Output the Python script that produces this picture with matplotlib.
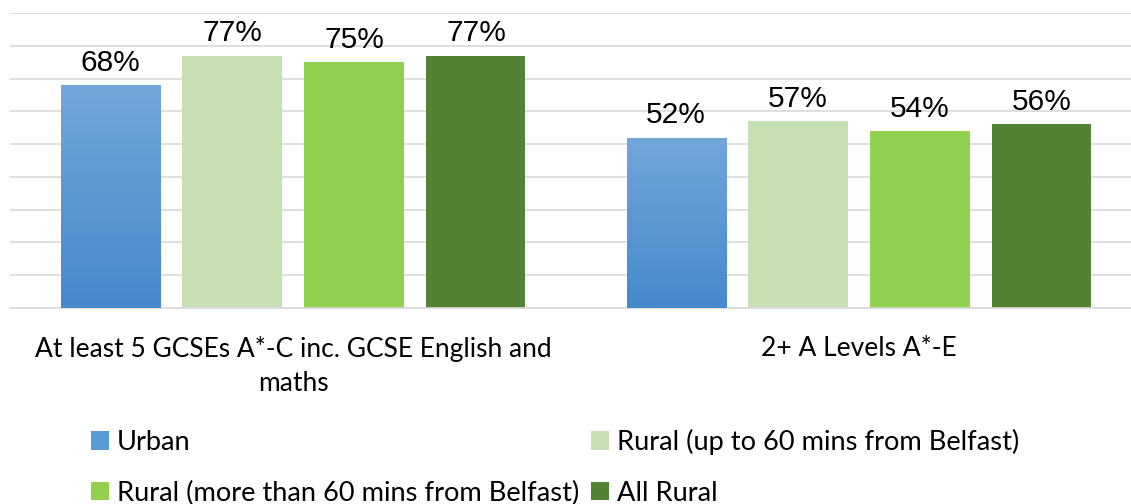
import numpy as np
import matplotlib
matplotlib.use("Agg")
import matplotlib.pyplot as plt
from matplotlib.colors import LinearSegmentedColormap
from matplotlib.patches import Patch

# Chart data
categories = ["At least 5 GCSEs A*-C inc. GCSE English and\nmaths", "2+ A Levels A*-E"]
series_names = ["Urban", "Rural (up to 60 mins from Belfast)",
                "Rural (more than 60 mins from Belfast)", "All Rural"]
urban = [68, 52]
rural_near = [77, 57]
rural_far = [75, 54]
all_rural = [77, 56]

colors = ["#5B9BD5", "#C6E0B4", "#92D050", "#548235"]
urban_cmap = LinearSegmentedColormap.from_list("urban", ["#4589CB", "#73A6DB"])

W, H = 1131, 504
fig = plt.figure(figsize=(W / 100, H / 100), dpi=100)
ax = fig.add_axes([10 / W, (H - 308) / H, (W - 10) / W, (308 - 13) / H])

x = np.arange(len(categories))
bar_w = 0.175
step = 0.2155
series = [urban, rural_near, rural_far, all_rural]

for i, vals in enumerate(series):
    xs = x + (i - 1.5) * step
    bars = ax.bar(xs, vals, width=bar_w, color=colors[i], zorder=2, linewidth=0)
    if i == 0:
        # vertical gradient fill like the original urban bars
        grad = np.linspace(0, 1, 256).reshape(-1, 1)
        for b in bars:
            im = ax.imshow(grad, extent=[b.get_x(), b.get_x() + b.get_width(), 0, b.get_height()],
                           origin="lower", aspect="auto", cmap=urban_cmap, zorder=3)
            im.set_clip_path(b)
    for xi, v in zip(xs, vals):
        ax.annotate(f"{v}%", (xi, v), xytext=(0, 6), textcoords="offset points",
                    ha="center", va="bottom", fontsize=21.5, family="Liberation Sans", zorder=4)

ax.set_xlim(-0.5, 1 + (W - 859) / 566)
ax.set_ylim(0, 90)
ax.set_yticks(np.arange(0, 91, 10))
ax.yaxis.grid(True, color="#D9D9D9", linewidth=1.2, zorder=0)
ax.set_axisbelow(True)
ax.tick_params(axis="y", left=False, labelleft=False)
for s in ["top", "right", "left"]:
    ax.spines[s].set_visible(False)
ax.spines["bottom"].set_color("#D9D9D9")
ax.spines["bottom"].set_linewidth(1.2)

ax.set_xticks(x)
ax.set_xticklabels(categories, fontsize=19, family="Lato", linespacing=1.45)
ax.tick_params(axis="x", length=0, pad=20)

# legend, entries ordered so rows read like the original
handles = [Patch(facecolor=c, edgecolor="none") for c in colors]
order = [0, 2, 1, 3]
fig.legend([handles[k] for k in order], [series_names[k] for k in order],
           ncol=2, loc="upper left", bbox_to_anchor=(80 / W, 1 - 418 / H),
           frameon=False, prop={"family": "Lato", "size": 19.6},
           handlelength=0.65, handleheight=0.65, handletextpad=0.3,
           columnspacing=0.45, labelspacing=0.95, borderaxespad=0)

fig.savefig("out.png", dpi=100)
